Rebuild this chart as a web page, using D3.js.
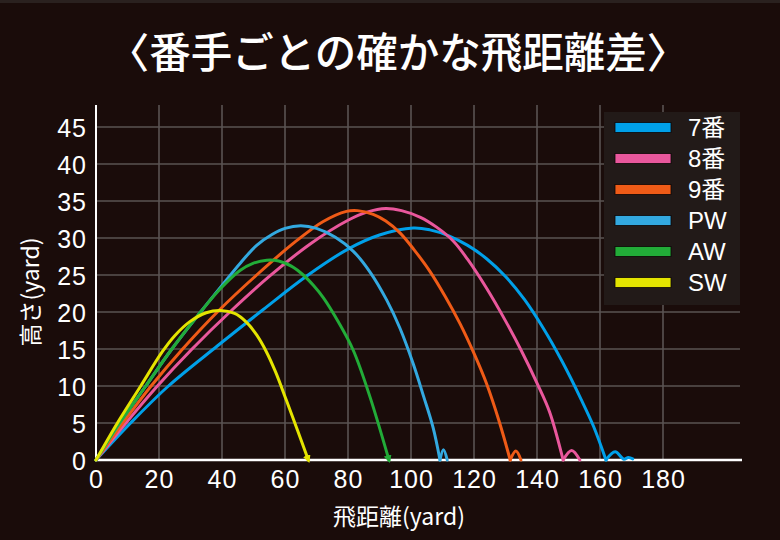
<!DOCTYPE html>
<html>
<head>
<meta charset="utf-8">
<script src="https://cdn.jsdelivr.net/npm/d3@7"></script>
<style>
  html, body { margin: 0; padding: 0; background: #1a0c0a; }
  svg { display: block; }
</style>
</head>
<body>
<svg id="chart" width="780" height="540"></svg>
<script>
// ---------- data ----------
const clubs = ["7番", "8番", "9番", "PW", "AW", "SW"];
const xTicks = [0, 20, 40, 60, 80, 100, 120, 140, 160, 180];
const yTicks = [0, 5, 10, 15, 20, 25, 30, 35, 40, 45];

const flight7 = [[0,0],[11,5],[23,10],[38.5,15.4],[53,20.3],[67,24.9],[80,28.5],[90,30.4],[100.7,31.35],[106,31.1],[112,30.3],[118,29.0],[124,27.2],[130,24.8],[136,21.7],[142,17.8],[148,13.3],[154,8.2],[158,4.5],[161.9,0]];
const flight8 = [[0,0],[9.5,5],[19.5,10],[30.5,15],[43,20.2],[55,24.8],[68,29.2],[80,32.4],[86,33.5],[92,34.0],[97,33.7],[103,32.8],[108,31.5],[113.4,29.6],[118,27.1],[124,23.2],[130,18.8],[135,14.8],[140,10.4],[144,6.5],[148.3,0]];
const flight9 = [[0,0],[8.5,5],[17.5,10],[27.5,15],[39,20.2],[51,25],[63,29.4],[72,32.2],[79.5,33.6],[83,33.7],[88,33.2],[92,32.3],[96.5,30.7],[101,28.4],[106,25.5],[111,22.0],[115.6,18.4],[120,14.4],[124,10.3],[128,5.2],[131.5,0]];
const flightPW = [[0,0],[7.5,5],[15.8,10],[23.9,14.9],[33.2,20],[40,23.6],[46,26.7],[51,29.0],[56,30.5],[60,31.3],[65,31.65],[70,31.3],[76,30.1],[81.7,28.2],[87,25.4],[92.3,21.6],[96.5,17.8],[100.7,13.0],[104,8.6],[107,4.4],[109.2,0]];
const flightAW = [[0,0],[7.5,5],[15.8,10],[23.9,14.9],[33.2,20],[39.4,23.1],[45.7,25.6],[50,26.6],[54.2,27.0],[58,26.9],[62,26.2],[65.8,25],[69,23.6],[72.2,21.9],[77,18.6],[81.7,14.8],[87,8.5],[93,0]];
const flightSW = [[0,0],[6.8,5],[14.2,10],[21,14.6],[25,16.8],[29.8,18.7],[35,19.9],[39.5,20.2],[44,19.8],[47.8,18.6],[51,16.9],[54,14.7],[57,11.9],[60.5,8.0],[64,4.0],[67.4,0]];

const bounce7 = [[161.9,0],[164.8,1.1],[167.6,0.1],[169,0.35],[170.4,0.15]];
const bounce8 = [[148.3,0],[151,1.3],[153.6,0]];
const bounce9 = [[131.5,0],[133.3,1.2],[134.9,0]];
const bouncePW = [[109.2,0],[110.3,1.4],[111.5,0]];
const bounceAW = [];
const bounceSW = [];

const flights = [flight7, flight8, flight9, flightPW, flightAW, flightSW];
const bounces = [bounce7, bounce8, bounce9, bouncePW, bounceAW, bounceSW];
const arrowEnd = [false, false, false, false, true, true];

// ---------- styles ----------
const colors = ["#00a0e9", "#e9579c", "#ef5b17", "#33a9e0", "#22ac38", "#e4e400"];
const bg = "#1a0c0a";
const gridColor = "#5a5352";
const latin = "'Liberation Sans', Arial, 'Noto Sans CJK JP', sans-serif";
const cjk = "'Noto Sans CJK JP', 'Liberation Sans', sans-serif";

// ---------- layout ----------
const svg = d3.select("#chart");
svg.append("rect").attr("width", 780).attr("height", 540).attr("fill", bg);
svg.append("rect").attr("width", 780).attr("height", 3).attr("fill", "#2a211f");

const x = d3.scaleLinear().domain([0, 180]).range([96, 663]);
const y = d3.scaleLinear().domain([0, 45]).range([460, 127]);
const plotRight = 740, plotTop = 105;

// grid
const grid = svg.append("g");
grid.selectAll("line.v").data(xTicks.filter(d => d > 0)).enter().append("line")
  .attr("x1", d => x(d)).attr("x2", d => x(d))
  .attr("y1", plotTop).attr("y2", y(0))
  .attr("stroke", gridColor).attr("stroke-width", 1.6);
grid.selectAll("line.h").data(yTicks.filter(d => d > 0)).enter().append("line")
  .attr("x1", x(0)).attr("x2", plotRight)
  .attr("y1", d => y(d)).attr("y2", d => y(d))
  .attr("stroke", gridColor).attr("stroke-width", 1.6);

const legend = svg.append("g");
legend.append("rect").attr("x", 604).attr("y", 112).attr("width", 136).attr("height", 193)
  .attr("fill", "#221a18");

// axes
const xAxis = svg.append("g").attr("transform", `translate(0,${y(0)})`)
  .call(d3.axisBottom(x).tickValues(xTicks).tickSize(0).tickPadding(10));
xAxis.select(".domain").remove();
xAxis.selectAll("text").attr("fill", "#fff").attr("font-family", latin)
  .attr("font-size", 25).attr("letter-spacing", 1).attr("dy", "0.72em");

const yAxis = svg.append("g").attr("transform", `translate(${x(0)},0)`)
  .call(d3.axisLeft(y).tickValues(yTicks).tickSize(0).tickPadding(9));
yAxis.select(".domain").remove();
yAxis.selectAll("text").attr("fill", "#fff").attr("font-family", latin)
  .attr("font-size", 25).attr("letter-spacing", 1).attr("dy", "0.36em");

svg.append("line").attr("x1", x(0)).attr("x2", x(0)).attr("y1", plotTop).attr("y2", y(0) + 1)
  .attr("stroke", "#fff").attr("stroke-width", 2);
svg.append("line").attr("x1", x(0) - 1).attr("x2", plotRight + 2).attr("y1", y(0)).attr("y2", y(0))
  .attr("stroke", "#fff").attr("stroke-width", 2.5);

// arrow markers
const defs = svg.append("defs");
colors.forEach((c, i) => {
  defs.append("marker").attr("id", "arr" + i)
    .attr("viewBox", "0 0 10 10").attr("refX", 6).attr("refY", 5)
    .attr("markerWidth", 2.6).attr("markerHeight", 2.6)
    .attr("orient", "auto").attr("markerUnits", "strokeWidth")
    .append("path").attr("d", "M0,0 L10,5 L0,10 Z").attr("fill", c);
});

// curves
const line = d3.line().x(d => x(d[0])).y(d => y(d[1])).curve(d3.curveCatmullRom.alpha(0.5));
const curves = svg.append("g").attr("fill", "none").attr("stroke-width", 3)
  .attr("stroke-linecap", "round").attr("stroke-linejoin", "round");
flights.forEach((f, i) => {
  const p = curves.append("path").attr("d", line(f)).attr("stroke", colors[i]);
  if (arrowEnd[i]) p.attr("marker-end", `url(#arr${i})`);
  if (bounces[i].length) curves.append("path").attr("d", line(bounces[i])).attr("stroke", colors[i]);
});

// legend entries
clubs.forEach((c, i) => {
  const cy = 127.5 + i * 31;
  legend.append("rect").attr("x", 615).attr("y", cy - 5).attr("width", 56).attr("height", 10)
    .attr("fill", colors[i]).attr("stroke", "#0c0606").attr("stroke-width", 0.8);
  legend.append("text").attr("x", 688).attr("y", cy).attr("dy", "0.36em")
    .attr("fill", "#fff").attr("font-family", latin).attr("font-size", 24).text(c);
});
legend.raise();

// titles
svg.append("text").attr("x", 398).attr("y", 68).attr("text-anchor", "middle")
  .attr("fill", "#fff").attr("font-family", cjk).attr("font-weight", 500)
  .attr("font-size", 41.5).text("〈番手ごとの確かな飛距離差〉");
svg.append("text").attr("x", 399).attr("y", 525).attr("text-anchor", "middle")
  .attr("fill", "#fff").attr("font-family", cjk).attr("font-size", 23).text("飛距離(yard)");
svg.append("text").attr("transform", "translate(39,292) rotate(-90)").attr("text-anchor", "middle")
  .attr("fill", "#fff").attr("font-family", cjk).attr("font-size", 23).text("高さ(yard)");
</script>
</body>
</html>
